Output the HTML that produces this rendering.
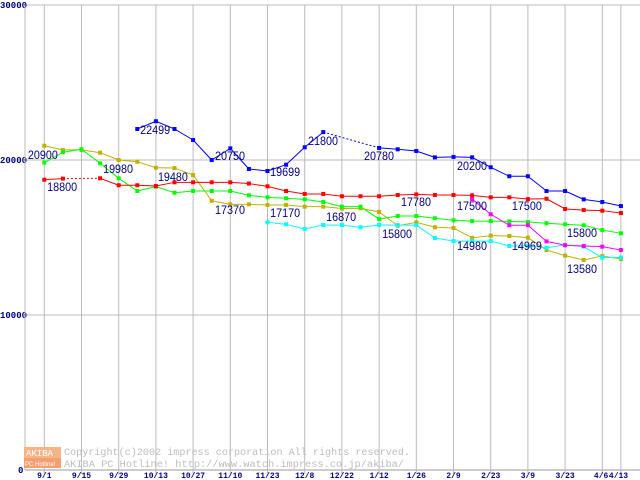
<!DOCTYPE html>
<html><head><meta charset="utf-8"><style>
html,body{margin:0;padding:0;background:#fff;width:640px;height:480px;overflow:hidden}
svg{display:block}
</style></head><body>
<svg id="chart" width="640" height="480" xmlns="http://www.w3.org/2000/svg">
<g id="grid"></g>
<g id="wm">
 <rect x="24" y="447" width="37" height="11" fill="#f5b58a"/>
 <rect x="24" y="458" width="37" height="10" fill="#f3a070"/>
 <text x="26" y="456" font-family="Liberation Mono, monospace" font-size="9" fill="#fff">AKIBA</text>
 <text x="25" y="466" font-family="Liberation Sans, sans-serif" font-size="6" fill="#fff">PC Hotline!</text>
 <text x="64" y="455" font-family="Liberation Mono, monospace" font-size="10.5" fill="#bdbdbd" textLength="346" lengthAdjust="spacingAndGlyphs">Copyright(c)2002 impress corporation All rights reserved.</text>
 <text x="64" y="467" font-family="Liberation Mono, monospace" font-size="10.5" fill="#bdbdbd" textLength="340" lengthAdjust="spacingAndGlyphs">AKIBA PC Hotline!  http://www.watch.impress.co.jp/akiba/</text>
</g>
<g id="series"></g>
<g id="labels"></g>
</svg>
<script>
const categories=["9/1","","9/15","","9/29","","10/13","","10/27","","11/10","","11/23","","12/8","","12/22","","1/12","","1/26","","2/9","","2/23","","3/9","","3/23","","4/6","4/13"];
const yTicks=[0,10000,20000,30000];
const blue=[null,null,null,null,null,22000,22499,22000,21290,20000,20750,19420,19290,19699,20820,21800,null,null,20780,20690,20580,20170,20200,20170,19530,18950,18950,18000,18000,17460,17290,17030];
const red=[18730,18800,null,18820,18370,18370,18320,18560,18560,18560,18560,18480,18300,18000,17810,17810,17660,17660,17660,17740,17780,17740,17740,17720,17590,17590,17480,17500,16840,16770,16730,16580];
const green=[19830,20500,20690,19790,18820,18000,18280,17890,18000,18000,18000,17720,17590,17530,17460,17290,16990,16990,16190,16390,16390,16240,16110,16060,16060,16040,16000,15920,15850,15790,15480,15270];
const olive=[20920,20650,20650,20470,20000,19890,19500,19480,19030,17370,17140,17140,17100,17100,16990,16990,16870,16880,16650,15760,15980,15660,15610,14980,15120,15100,14990,14190,13830,13550,13810,13610];
const cyan=[null,null,null,null,null,null,null,null,null,null,null,null,15980,15850,15550,15810,15800,15660,15810,15800,15800,14970,14770,14770,14770,14450,14450,14340,14520,14410,13700,13710];
const magenta=[null,null,null,null,null,null,null,null,null,null,null,null,null,null,null,null,null,null,null,null,null,null,null,17480,16500,15790,15790,14750,14500,14450,14410,14190];
const labelTexts=["22499","20900","19980","18800","20750","19480","19699","21800","17370","17170","16870","20780","17780","15800","20200","17500","14980","17500","14969","15800","13580"];
const labelIdx=[5.15,-0.88,3.16,0.15,9.18,6.11,12.14,14.18,9.18,12.14,15.15,17.19,19.18,18.16,22.19,22.19,22.19,25.14,25.14,28.1,28.1];
const labelVal=[21680,20060,19160,18000,20000,18650,18970,20970,16520,16320,16060,20000,17030,14970,19350,16770,14190,16770,14190,15030,12710];
const NS="http://www.w3.org/2000/svg";
const x=i=>44.3+18.6*i;
const y=v=>470-v*0.0155;
function mk(tag,attrs,parent){const e=document.createElementNS(NS,tag);for(const k in attrs)e.setAttribute(k,attrs[k]);parent.appendChild(e);return e;}
const grid=document.getElementById('grid');
yTicks.forEach(t=>{
 const l=mk('line',{x1:25,x2:640,y1:y(t),y2:y(t),stroke:t===0?'#999':'#bbb','stroke-width':1},grid);
 
 
 const tx=mk('text',{x:t===0?18:0,y:y(t)+3,'font-family':'Liberation Mono, monospace','font-size':9,'font-weight':'bold',fill:'#000080'},grid);
 tx.textContent=String(t);
 
 
});
const ax=mk('line',{x1:25,x2:25,y1:y(30000),y2:470,stroke:'#bbb'},grid);


categories.forEach((c,i)=>{
 if(c===''&&i!==31)return;
 const l=mk('line',{x1:x(i),x2:x(i),y1:y(30000),y2:474,stroke:'#bbb'},grid);
 
 
 const tx=mk('text',{x:x(i),y:478,'text-anchor':i===30?'end':(i===31?'start':'middle'),'font-family':'Liberation Mono, monospace','font-size':8,'font-weight':'bold',fill:'#000080'},grid);
 if(i===30)tx.setAttribute('x',x(i)+6);
 if(i===31)tx.setAttribute('x',x(i)-12);
 tx.textContent=c;
 
 
});
const sg=document.getElementById('series');
function drawSeries(data,color,name){
 const g=mk('g',{},sg);
 
 
 let prev=-1;
 data.forEach((v,i)=>{
  if(v===null)return;
  if(prev>=0){
   const l=mk('line',{x1:x(prev),y1:y(data[prev]),x2:x(i),y2:y(v),stroke:color,'stroke-width':1},g);
   if(i-prev>1)l.setAttribute('stroke-dasharray','2,2');
   
   
  }
  prev=i;
 });
 data.forEach((v,i)=>{
  if(v===null)return;
  const r=mk('rect',{x:x(i)-2,y:y(v)-2,width:4,height:4,fill:color},g);
  
  
 });
}
drawSeries(olive,'#c0b000','olive-series');
drawSeries(cyan,'#00ffff','cyan-series');
drawSeries(green,'#00ff00','green-series');
drawSeries(red,'#ff0000','red-series');
drawSeries(magenta,'#ff00ff','magenta-series');
drawSeries(blue,'#0000ff','blue-series');
const lg=document.getElementById('labels');
labelTexts.forEach((t,k)=>{
 const tx=mk('text',{x:x(labelIdx[k]),y:y(labelVal[k]),'font-family':'Liberation Sans, sans-serif','font-size':12,fill:'#000080',textLength:30,lengthAdjust:'spacingAndGlyphs'},lg);
 tx.textContent=t;
 
 
});
</script>
</body></html>
